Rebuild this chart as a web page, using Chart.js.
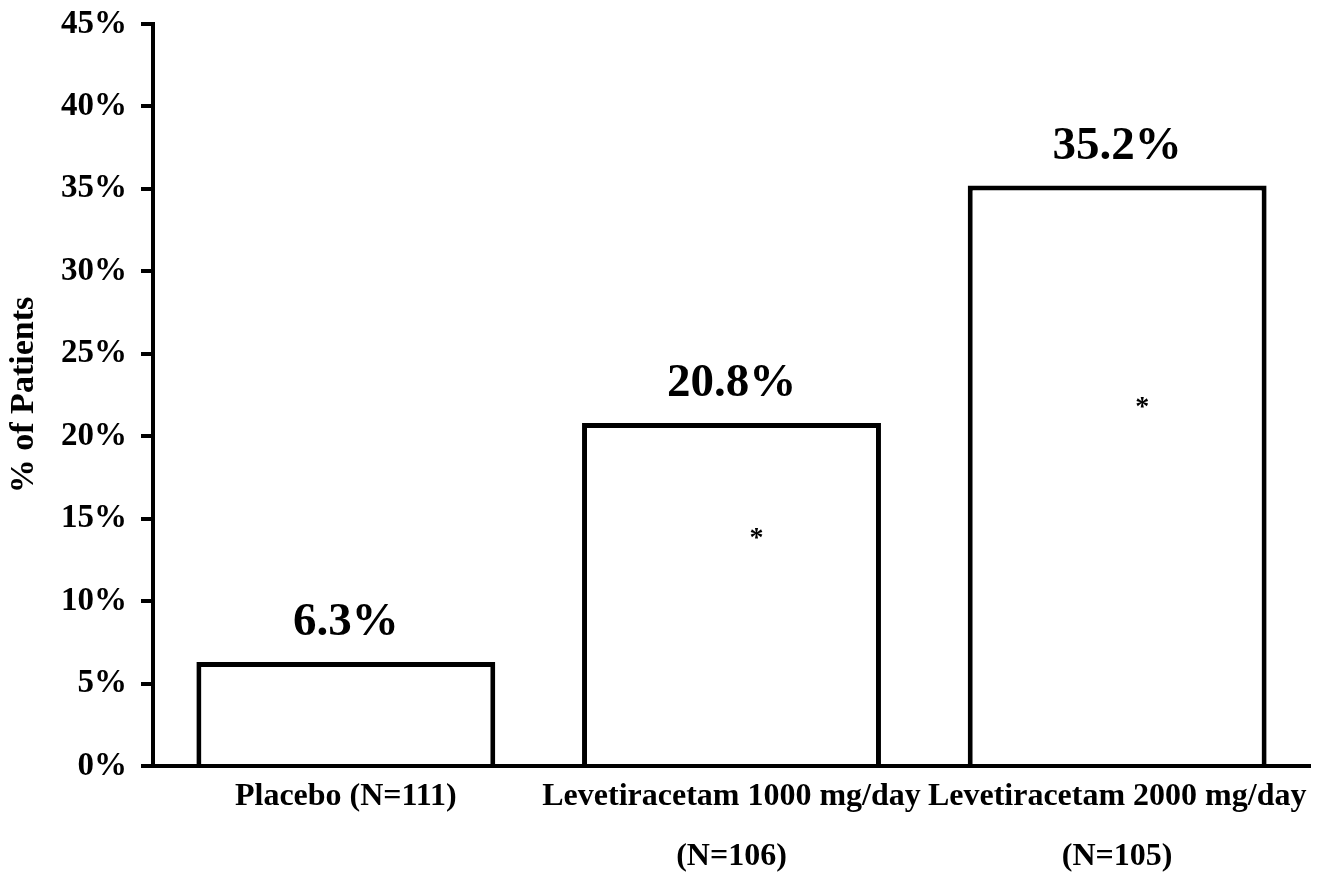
<!DOCTYPE html>
<html>
<head>
<meta charset="utf-8">
<script src="https://cdn.jsdelivr.net/npm/chart.js@4"></script>
<style>
  html, body { margin: 0; padding: 0; background: #fff; }
  #wrap { width: 1341px; height: 875px; }
</style>
</head>
<body>
<div id="wrap"><canvas id="myChart"></canvas></div>
<script>
// values
const groups = [
    "Placebo (N=111)",
    ["Levetiracetam 1000 mg/day", "(N=106)"],
    ["Levetiracetam 2000 mg/day", "(N=105)"]
];
const patients = [6.3, 20.8, 35.2];
const valueLabels = ["6.3%", "20.8%", "35.2%"];
const stars = [null, 13.8, 21.7];   // where the * sits inside each bar, in % units
const yTicks = [0, 5, 10, 15, 20, 25, 30, 35, 40, 45];

const serif = "'Liberation Serif', 'Times New Roman', serif";

// numbers above bars and the significance stars
const barText = {
    id: 'barText',
    afterDatasetsDraw(chart) {
        const ctx = chart.ctx;
        const meta = chart.getDatasetMeta(0);
        const y = chart.scales.y;
        ctx.save();
        ctx.fillStyle = '#000';
        ctx.textAlign = 'center';
        ctx.textBaseline = 'middle';
        meta.data.forEach((bar, i) => {
            ctx.font = 'bold 47px ' + serif;
            ctx.fillText(valueLabels[i], bar.x, bar.y - 39);
            if (stars[i] !== null) {
                ctx.font = 'bold 28px ' + serif;
                ctx.fillText('*', bar.x + 25, y.getPixelForValue(stars[i]));
            }
        });
        ctx.restore();
    }
};

const ctx = document.getElementById('myChart');
new Chart(ctx, {
    type: 'bar',
    data: {
        labels: groups,
        datasets: [{
            label: '% of Patients',
            data: patients,
            backgroundColor: '#fff',
            borderColor: '#000',
            borderWidth: 5,
            borderSkipped: 'bottom',
            barPercentage: 0.775,
            categoryPercentage: 1.0
        }]
    },
    options: {
        responsive: true,
        maintainAspectRatio: false,
        animation: false,
        layout: {
            padding: {top: 24, right: 31, left: 0, bottom: 0}
        },
        plugins: {
            legend: {display: false},
            tooltip: {enabled: false}
        },
        scales: {
            x: {
                grid: {display: false, drawTicks: false},
                border: {display: true, color: '#000', width: 4},
                ticks: {
                    color: '#000',
                    padding: 0,
                    maxRotation: 0,
                    autoSkip: false,
                    font: {family: serif, size: 32, weight: 'bold', lineHeight: 1.9}
                },
                afterFit: (scale) => { scale.height = 109; }
            },
            y: {
                min: 0,
                max: 45,
                afterBuildTicks: (scale) => {
                    scale.ticks = yTicks.map(v => ({value: v}));
                },
                grid: {
                    display: true,
                    drawOnChartArea: false,
                    drawTicks: true,
                    tickLength: 12,
                    lineWidth: 4,
                    color: '#000'
                },
                border: {display: true, color: '#000', width: 4},
                ticks: {
                    color: '#000',
                    padding: 14,
                    callback: (v) => v + '%',
                    font: {family: serif, size: 33, weight: 'bold'}
                },
                title: {
                    display: true,
                    text: '% of Patients',
                    color: '#000',
                    padding: {top: 4, bottom: 0},
                    font: {family: serif, size: 34, weight: 'bold', lineHeight: 1.2}
                },
                afterFit: (scale) => {
                    scale.width = 153;
                    scale.paddingTop = 0;
                    scale.paddingBottom = 0;
                }
            }
        }
    },
    plugins: [barText]
});
</script>
</body>
</html>
